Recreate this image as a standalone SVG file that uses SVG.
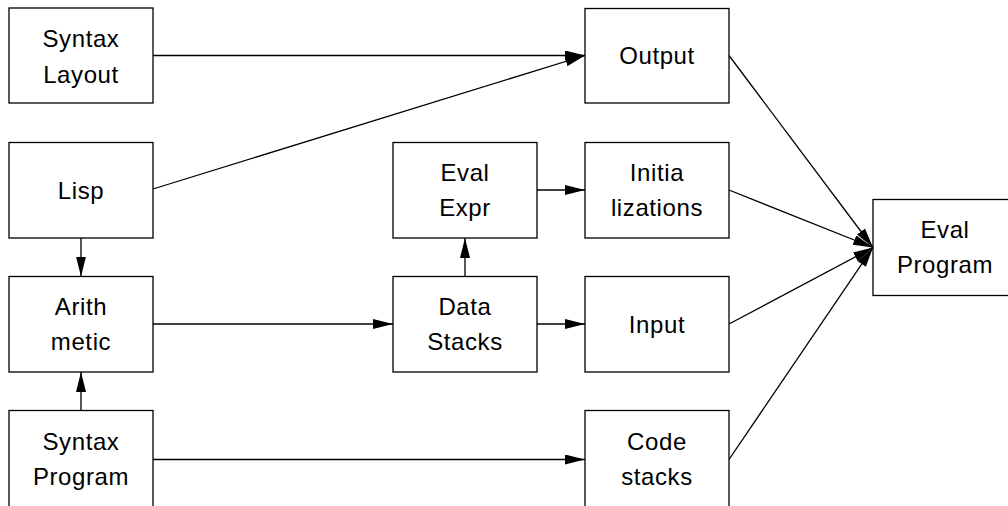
<svg xmlns="http://www.w3.org/2000/svg" width="1008" height="506" viewBox="0 0 1008 506">
  <style>
    .box { fill: #fff; stroke: #000; stroke-width: 1.3; }
    .lbl { font-family: "Liberation Sans", Arial, sans-serif; font-size: 24px; fill: #000; text-anchor: middle; letter-spacing: 0.6px; }
    .edge { stroke: #000; stroke-width: 1.3; fill: none; marker-end: url(#arrow); }
  </style>
  <defs>
    <marker id="arrow" markerUnits="userSpaceOnUse" markerWidth="20" markerHeight="10" refX="20" refY="5" orient="auto">
      <path d="M0,0 L20,5 L0,10 z" fill="#000"/>
    </marker>
  </defs>
  <rect width="1008" height="506" fill="#fff"/>

  <g id="connectors">
    <line class="edge" x1="153" y1="55.5" x2="585" y2="55.5"/>
    <line class="edge" x1="153" y1="189" x2="585" y2="55.5"/>
    <line class="edge" x1="81" y1="238" x2="81" y2="276.5"/>
    <line class="edge" x1="81" y1="410.5" x2="81" y2="372"/>
    <line class="edge" x1="153" y1="324" x2="393" y2="324"/>
    <line class="edge" x1="465" y1="276.5" x2="465" y2="238"/>
    <line class="edge" x1="537" y1="190" x2="585" y2="190"/>
    <line class="edge" x1="537" y1="324" x2="585" y2="324"/>
    <line class="edge" x1="153" y1="459.5" x2="585" y2="459.5"/>
    <line class="edge" x1="729" y1="55.5" x2="873" y2="247.5"/>
    <line class="edge" x1="729" y1="190" x2="873" y2="247.5"/>
    <line class="edge" x1="729" y1="324" x2="873" y2="247.5"/>
    <line class="edge" x1="729" y1="459.5" x2="873" y2="247.5"/>
  </g>

  <g id="syntax-layout">
    <rect class="box" x="9" y="8" width="144" height="95"/>
    <text class="lbl" x="81" y="46.5">Syntax</text>
    <text class="lbl" x="81" y="82.5">Layout</text>
  </g>
  <g id="lisp">
    <rect class="box" x="9" y="142.5" width="144" height="95.5"/>
    <text class="lbl" x="81" y="198.5">Lisp</text>
  </g>
  <g id="arithmetic">
    <rect class="box" x="9" y="276.5" width="144" height="95.5"/>
    <text class="lbl" x="81" y="315">Arith</text>
    <text class="lbl" x="81" y="350">metic</text>
  </g>
  <g id="syntax-program">
    <rect class="box" x="9" y="410.5" width="144" height="110"/>
    <text class="lbl" x="81" y="449.5">Syntax</text>
    <text class="lbl" x="81" y="484.5">Program</text>
  </g>
  <g id="eval-expr">
    <rect class="box" x="393" y="142.5" width="144" height="95.5"/>
    <text class="lbl" x="465" y="181">Eval</text>
    <text class="lbl" x="465" y="216">Expr</text>
  </g>
  <g id="data-stacks">
    <rect class="box" x="393" y="276.5" width="144" height="95.5"/>
    <text class="lbl" x="465" y="315">Data</text>
    <text class="lbl" x="465" y="350">Stacks</text>
  </g>
  <g id="output">
    <rect class="box" x="585" y="8.5" width="144" height="94.5"/>
    <text class="lbl" x="657" y="64">Output</text>
  </g>
  <g id="initializations">
    <rect class="box" x="585" y="142.5" width="144" height="95.5"/>
    <text class="lbl" x="657" y="181">Initia</text>
    <text class="lbl" x="657" y="216">lizations</text>
  </g>
  <g id="input">
    <rect class="box" x="585" y="276.5" width="144" height="95.5"/>
    <text class="lbl" x="657" y="332.5">Input</text>
  </g>
  <g id="code-stacks">
    <rect class="box" x="585" y="410.5" width="144" height="110"/>
    <text class="lbl" x="657" y="449.5">Code</text>
    <text class="lbl" x="657" y="484.5">stacks</text>
  </g>
  <g id="eval-program">
    <rect class="box" x="873" y="199.5" width="144" height="96"/>
    <text class="lbl" x="945" y="238">Eval</text>
    <text class="lbl" x="945" y="273">Program</text>
  </g>
</svg>
